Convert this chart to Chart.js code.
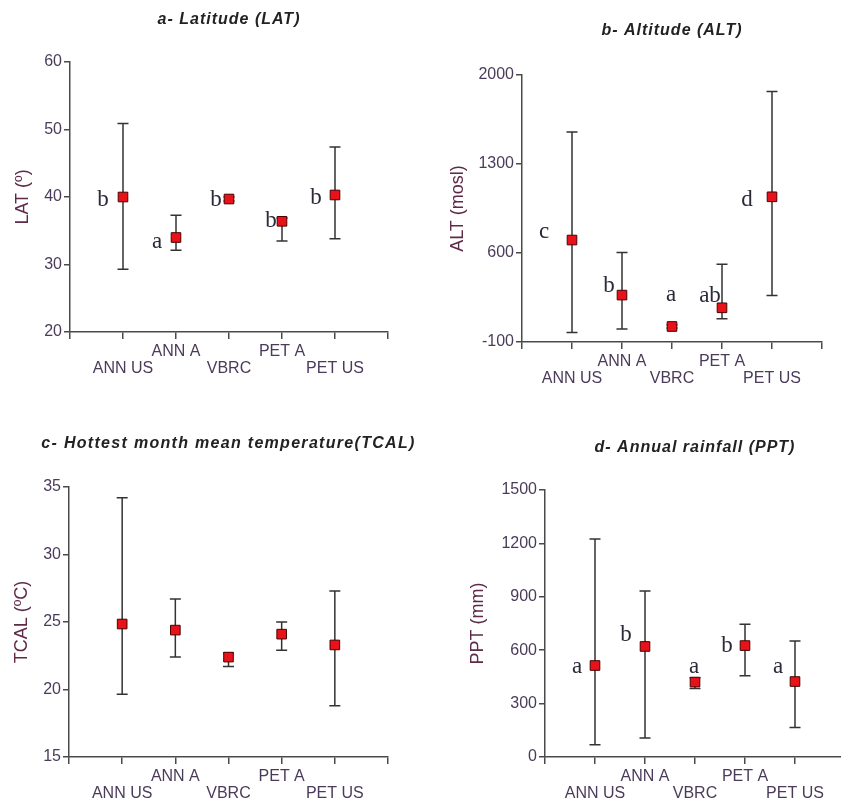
<!DOCTYPE html>
<html>
<head>
<meta charset="utf-8">
<script src="https://cdn.jsdelivr.net/npm/chart.js@4.4.1/dist/chart.umd.min.js"></script>
<style>
html,body{margin:0;padding:0;background:#fff;width:841px;height:802px;overflow:hidden;position:relative}
.pn{position:absolute;display:block}
</style>
</head>
<body>
<canvas id="cLat" class="pn" style="left:0;top:0" width="420" height="400"></canvas>
<canvas id="cAlt" class="pn" style="left:420px;top:0" width="420" height="400"></canvas>
<canvas id="cTcal" class="pn" style="left:0;top:400px" width="420" height="402"></canvas>
<canvas id="cPpt" class="pn" style="left:420px;top:400px" width="440" height="402"></canvas>
<script>
// ── DATA ─────────────────────────────────────────────────
var groups=['ANN US','ANN A','VBRC','PET A','PET US'];

var latMean=[40.0,34.0,39.7,36.4,40.3];
var latLow=[29.3,32.1,39.4,33.5,33.8];
var latHigh=[50.9,37.3,40.0,36.9,47.4];
var latLetters=['b','a','b','b','b'];
var latTicks=[20,30,40,50,60];

var altMean=[702,269,22,169,1042];
var altLow=[-25,2,10,83,266];
var altHigh=[1552,603,35,512,1871];
var altLetters=['c','b','a','ab','d'];
var altTicks=[-100,600,1300,2000];

var tcalMean=[24.85,24.4,22.4,24.1,23.3];
var tcalLow=[19.65,22.4,21.7,22.9,18.8];
var tcalHigh=[34.2,26.7,22.7,25.0,27.3];
var tcalTicks=[15,20,25,30,35];

var pptMean=[514,621,421,626,424];
var pptLow=[69,107,385,456,166];
var pptHigh=[1225,933,445,746,651];
var pptLetters=['a','b','a','b','a'];
var pptTicks=[0,300,600,900,1200,1500];

// ── STYLE ────────────────────────────────────────────────
var AXIS='#4a4a4a', TICKC='#4b3b5b', YTITLEC='#5e2a48', LETTERC='#2a2a3a';
var xSlots=[0,1,2,3,4,5,6];

function makePanel(id,p){
  var cv=document.getElementById(id), W=cv.width, H=cv.height;
  var plug={
    id:'errLetters',
    beforeDatasetsDraw:function(c){
      var xs=c.scales.x, ys=c.scales.y, ctx=c.ctx;
      ctx.save();ctx.strokeStyle='#333';ctx.lineWidth=1.5;
      p.low.forEach(function(lo,i){
        var x=xs.getPixelForValue(i+1), y1=ys.getPixelForValue(lo), y2=ys.getPixelForValue(p.high[i]);
        ctx.beginPath();
        ctx.moveTo(x,y1);ctx.lineTo(x,y2);
        ctx.moveTo(x-5.5,y1);ctx.lineTo(x+5.5,y1);
        ctx.moveTo(x-5.5,y2);ctx.lineTo(x+5.5,y2);
        ctx.stroke();
      });
      ctx.restore();
    },
    afterDraw:function(c){
      var xs=c.scales.x, ys=c.scales.y, ctx=c.ctx, ca=c.chartArea;
      ctx.save();
      // title
      ctx.font='italic bold 16px Arial, "Liberation Sans", sans-serif';
      ctx.letterSpacing=p.titleSp;
      ctx.fillStyle='#222';ctx.textAlign='center';ctx.textBaseline='middle';
      ctx.fillText(p.title,(ca.left+ca.right)/2,p.titleY);
      ctx.letterSpacing='0px';
      // significance letters
      if(p.letters){
        ctx.font='23px "Liberation Serif", "Times New Roman", serif';
        ctx.fillStyle=LETTERC;ctx.textBaseline='alphabetic';
        p.letters.forEach(function(t,i){
          var off=p.letterOff[i];
          ctx.fillText(t,xs.getPixelForValue(i+1)+off[0],ys.getPixelForValue(p.mean[i])+off[1]);
        });
      }
      ctx.restore();
    }
  };
  return new Chart(cv.getContext('2d'),{
    type:'scatter',
    data:{datasets:[{
      data:p.mean.map(function(v,i){return {x:i+1,y:v};}),
      pointStyle:'rect',pointRadius:6.8,pointHoverRadius:6.8,
      backgroundColor:'#e8121a',borderColor:'#4a0000',borderWidth:1
    }]},
    options:{
      responsive:false,animation:false,
      layout:{padding:{left:0,top:p.area[1],right:W-p.area[2],bottom:0}},
      plugins:{legend:{display:false},tooltip:{enabled:false}},
      scales:{
        x:{
          type:'linear',min:0,max:6,
          afterBuildTicks:function(s){s.ticks=xSlots.map(function(v){return {value:v};});},
          afterFit:function(s){s.height=H-p.area[3];},
          grid:{drawOnChartArea:false,tickLength:7,color:AXIS,lineWidth:1.5},
          border:{color:AXIS,width:1.5},
          ticks:{
            autoSkip:false,maxRotation:0,minRotation:0,padding:4,color:TICKC,
            font:{family:'Arial',size:16,lineHeight:'17px'},
            callback:function(v){var g=groups[v-1];if(!g)return '';return (v%2)?['',g]:g;}
          }
        },
        y:{
          min:p.ticks[0],max:p.ticks[p.ticks.length-1],
          afterBuildTicks:function(s){s.ticks=p.ticks.map(function(v){return {value:v};});},
          afterFit:function(s){s.width=p.area[0];},
          grid:{drawOnChartArea:false,tickLength:6,color:AXIS,lineWidth:1.5},
          border:{color:AXIS,width:1.5},
          ticks:{padding:2,color:TICKC,font:{family:'Arial',size:16},callback:function(v){return String(v);}},
          title:{display:true,text:p.yTitle,color:YTITLEC,font:{family:'Arial',size:18},padding:{top:p.yTitlePad}}
        }
      }
    },
    plugins:[plug]
  });
}

makePanel('cLat',{
  title:'a- Latitude (LAT)',titleY:20,titleSp:'1px',yTitle:'LAT (º)',yTitlePad:12,
  area:[70,62,388,332],ticks:latTicks,
  mean:latMean,low:latLow,high:latHigh,letters:latLetters,
  letterOff:[[-20,9],[-19,10],[-13,7],[-11,6],[-19,9]]
});
makePanel('cAlt',{
  title:'b- Altitude (ALT)',titleY:31,titleSp:'1px',yTitle:'ALT (mosl)',yTitlePad:27,
  area:[102,75,402,342],ticks:altTicks,
  mean:altMean,low:altLow,high:altHigh,letters:altLetters,
  letterOff:[[-28,-2],[-13,-3],[-1,-25],[-12,-6],[-25,9]]
});
makePanel('cTcal',{
  title:'c- Hottest month mean temperature(TCAL)',titleY:44,titleSp:'1.3px',yTitle:'TCAL (ºC)',yTitlePad:11,
  area:[69,87,388,357],ticks:tcalTicks,
  mean:tcalMean,low:tcalLow,high:tcalHigh
});
makePanel('cPpt',{
  title:'d- Annual rainfall (PPT)',titleY:48,titleSp:'1px',yTitle:'PPT (mm)',yTitlePad:47,
  area:[125,90,425,357],ticks:pptTicks,
  mean:pptMean,low:pptLow,high:pptHigh,letters:pptLetters,
  letterOff:[[-18,7],[-19,-5],[-1,-9],[-18,6],[-17,-9]]
});
</script>
</body>
</html>
